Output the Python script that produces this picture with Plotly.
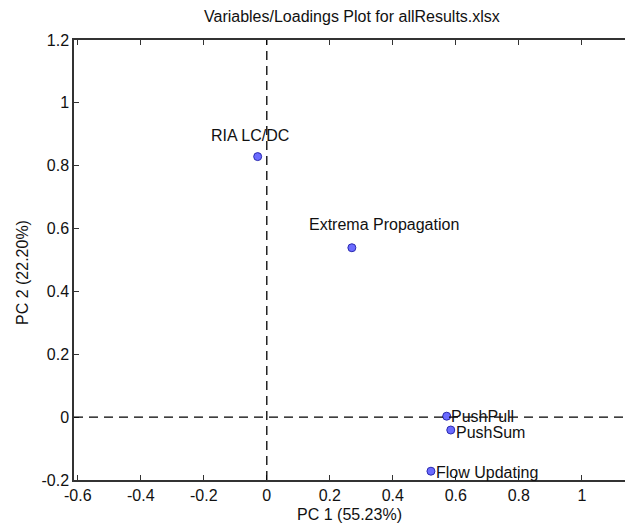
import plotly.graph_objects as go

# ---- data ----
names = ["RIA LC/DC", "Extrema Propagation", "PushPull", "PushSum", "Flow Updating"]
pc1 = [-0.029, 0.270, 0.571, 0.584, 0.521]
pc2 = [0.829, 0.539, 0.003, -0.041, -0.172]

x_tickvals = [-0.6, -0.4, -0.2, 0, 0.2, 0.4, 0.6, 0.8, 1]
x_ticktext = ["-0.6", "-0.4", "-0.2", "0", "0.2", "0.4", "0.6", "0.8", "1"]
y_tickvals = [-0.2, 0, 0.2, 0.4, 0.6, 0.8, 1, 1.2]
y_ticktext = ["-0.2", "0", "0.2", "0.4", "0.6", "0.8", "1", "1.2"]

title_text = "Variables/Loadings Plot for allResults.xlsx"
xlabel = "PC 1 (55.23%)"
ylabel = "PC 2 (22.20%)"
ref_x = 0
ref_y = 0

# label placement styles (pixel shifts / anchors)
label_style = [
    dict(xanchor="center", xshift=-8, yshift=21),
    dict(xanchor="center", xshift=32, yshift=23),
    dict(xanchor="left", xshift=2, yshift=0),
    dict(xanchor="left", xshift=3, yshift=-2),
    dict(xanchor="left", xshift=3, yshift=-1),
]

FONT = "Liberation Sans, Arial, sans-serif"
AX = "#333333"
W, H = 625, 527
ML, MR, MT, MB = 74, 0, 40, 47
PW, PH = W - ML - MR, H - MT - MB

def px_to_paper(px, py):
    return (px - ML) / PW, (H - MB - py) / PH

fig = go.Figure()
fig.add_trace(go.Scatter(
    x=pc1, y=pc2, mode="markers",
    marker=dict(size=8, color="#6b6bff", line=dict(color="#2a2ab0", width=1)),
    hoverinfo="text", text=names, showlegend=False,
))

annotations = []
for n, xv, yv, st in zip(names, pc1, pc2, label_style):
    annotations.append(dict(
        x=xv, y=yv, xref="x", yref="y", text=n, showarrow=False,
        xanchor=st["xanchor"], yanchor="middle",
        xshift=st["xshift"], yshift=st["yshift"],
        font=dict(family=FONT, size=16, color="#111111"),
    ))

tx, ty = px_to_paper(351.6, 16)
annotations.append(dict(
    x=tx, y=ty, xref="paper", yref="paper",
    text=title_text, showarrow=False, xanchor="center", yanchor="middle",
    font=dict(family=FONT, size=16, color="#111111"),
))
lx, ly = px_to_paper(22, 272)
annotations.append(dict(
    x=lx, y=ly, xref="paper", yref="paper", textangle=-90,
    text=ylabel, showarrow=False, xanchor="center", yanchor="middle",
    font=dict(family=FONT, size=16, color="#111111"),
))

fig.update_layout(
    width=W, height=H,
    margin=dict(l=ML, r=MR, t=MT, b=MB),
    paper_bgcolor="white", plot_bgcolor="white",
    font=dict(family=FONT, size=16, color="#111111"),
    showlegend=False,
    shapes=[
        dict(type="line", xref="x", yref="paper", x0=ref_x, x1=ref_x, y0=0, y1=1,
             line=dict(color="black", width=1.3, dash="9px,6px")),
        dict(type="line", xref="paper", yref="y", x0=0, x1=1, y0=ref_y, y1=ref_y,
             line=dict(color="black", width=1.3, dash="9px,6px")),
    ],
    xaxis=dict(
        range=[-0.612, 1.137], showgrid=False, zeroline=False,
        showline=True, linecolor=AX, linewidth=1.5, mirror="allticks",
        ticks="inside", ticklen=5, tickcolor=AX, tickwidth=1,
        tickvals=x_tickvals, ticktext=x_ticktext,
        tickfont=dict(family=FONT, size=16, color="#111111"),
        title=dict(text=xlabel, standoff=6, font=dict(family=FONT, size=16)),
    ),
    yaxis=dict(
        range=[-0.2, 1.2], showgrid=False, zeroline=False,
        showline=True, linecolor=AX, linewidth=1.5, mirror=False,
        ticks="inside", ticklen=5, tickcolor=AX, tickwidth=1,
        tickvals=y_tickvals, ticktext=y_ticktext,
        tickfont=dict(family=FONT, size=16, color="#111111"),
    ),
    annotations=annotations,
)

fig.write_html("out.html")
